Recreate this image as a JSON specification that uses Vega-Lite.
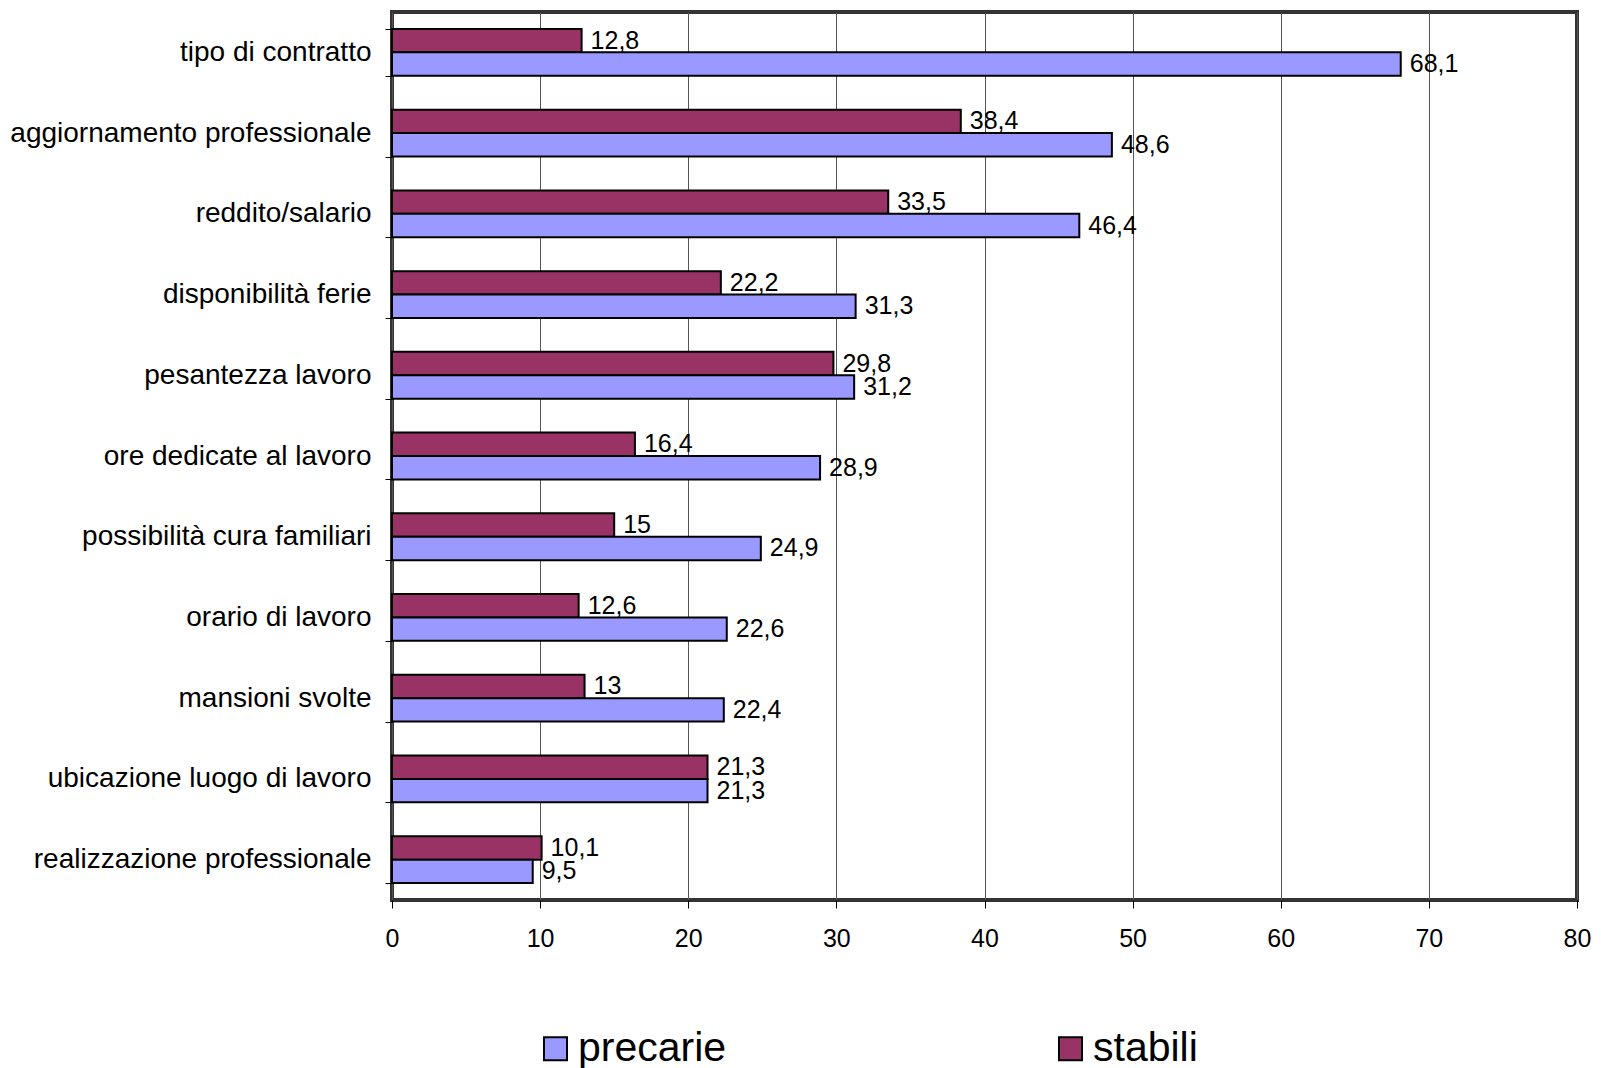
{
  "$schema": "https://vega.github.io/schema/vega-lite/v6.json",
  "width": 1185,
  "height": 888,
  "autosize": {"type": "none"},
  "padding": {"left": 392, "top": 12, "right": 24, "bottom": 168},
  "background": "white",
  "config": {
    "font": "Liberation Sans",
    "locale": {"number": {"decimal": ",", "thousands": ".", "grouping": [3], "currency": ["€", ""]}},
    "view": {"stroke": "#333333", "strokeWidth": 4}
  },
  "data": {
    "values": [
      {"voce": "tipo di contratto", "serie": "stabili", "valore": 12.8},
      {"voce": "tipo di contratto", "serie": "precarie", "valore": 68.1},
      {"voce": "aggiornamento professionale", "serie": "stabili", "valore": 38.4},
      {"voce": "aggiornamento professionale", "serie": "precarie", "valore": 48.6},
      {"voce": "reddito/salario", "serie": "stabili", "valore": 33.5},
      {"voce": "reddito/salario", "serie": "precarie", "valore": 46.4},
      {"voce": "disponibilità ferie", "serie": "stabili", "valore": 22.2},
      {"voce": "disponibilità ferie", "serie": "precarie", "valore": 31.3},
      {"voce": "pesantezza lavoro", "serie": "stabili", "valore": 29.8},
      {"voce": "pesantezza lavoro", "serie": "precarie", "valore": 31.2},
      {"voce": "ore dedicate al lavoro", "serie": "stabili", "valore": 16.4},
      {"voce": "ore dedicate al lavoro", "serie": "precarie", "valore": 28.9},
      {"voce": "possibilità cura familiari", "serie": "stabili", "valore": 15},
      {"voce": "possibilità cura familiari", "serie": "precarie", "valore": 24.9},
      {"voce": "orario di lavoro", "serie": "stabili", "valore": 12.6},
      {"voce": "orario di lavoro", "serie": "precarie", "valore": 22.6},
      {"voce": "mansioni svolte", "serie": "stabili", "valore": 13},
      {"voce": "mansioni svolte", "serie": "precarie", "valore": 22.4},
      {"voce": "ubicazione luogo di lavoro", "serie": "stabili", "valore": 21.3},
      {"voce": "ubicazione luogo di lavoro", "serie": "precarie", "valore": 21.3},
      {"voce": "realizzazione professionale", "serie": "stabili", "valore": 10.1},
      {"voce": "realizzazione professionale", "serie": "precarie", "valore": 9.5}
    ]
  },
  "encoding": {
    "y": {
      "field": "voce", "type": "nominal", "sort": null,
      "scale": {"paddingInner": 0.42, "paddingOuter": 0.21},
      "axis": {
        "title": null, "domain": false, "tickBand": "extent",
        "tickSize": 7, "tickColor": "#000000", "tickWidth": 1,
        "labelFontSize": 28, "labelColor": "#000000", "labelPadding": 14,
        "labelLimit": 500, "grid": false
      }
    },
    "yOffset": {
      "field": "serie", "type": "nominal", "sort": ["stabili", "precarie"],
      "scale": {"paddingInner": 0, "paddingOuter": 0}
    },
    "x": {
      "field": "valore", "type": "quantitative",
      "scale": {"domain": [0, 80], "nice": false},
      "axis": {
        "title": null, "values": [0, 10, 20, 30, 40, 50, 60, 70, 80],
        "domain": false, "tickSize": 8, "tickColor": "#000000", "tickWidth": 1,
        "labelFontSize": 25, "labelColor": "#000000", "labelPadding": 18,
        "labelFlush": false, "labelBound": false, "labelOverlap": false,
        "grid": true, "gridColor": "#555555", "gridWidth": 1, "gridOpacity": 1
      }
    }
  },
  "layer": [
    {
      "mark": {"type": "bar", "stroke": "#000000", "strokeWidth": 2, "opacity": 1},
      "encoding": {
        "fill": {
          "field": "serie", "type": "nominal",
          "scale": {"domain": ["precarie", "stabili"], "range": ["#9999FF", "#993366"]},
          "legend": {
            "title": null, "orient": "none", "direction": "horizontal", "columns": 2,
            "legendX": 143, "legendY": 1016,
            "symbolType": "square", "symbolSize": 529, "symbolStrokeColor": "#000000",
            "symbolStrokeWidth": 2, "symbolOpacity": 1,
            "labelFontSize": 41, "labelColor": "#000000", "labelOffset": 2,
            "columnPadding": 323, "labelLimit": 400
          }
        }
      }
    },
    {
      "mark": {"type": "text", "align": "left", "baseline": "middle", "dx": 9, "fontSize": 25, "color": "#000000"},
      "encoding": {
        "text": {"field": "valore", "type": "quantitative", "format": ".3~r"}
      }
    }
  ]
}
